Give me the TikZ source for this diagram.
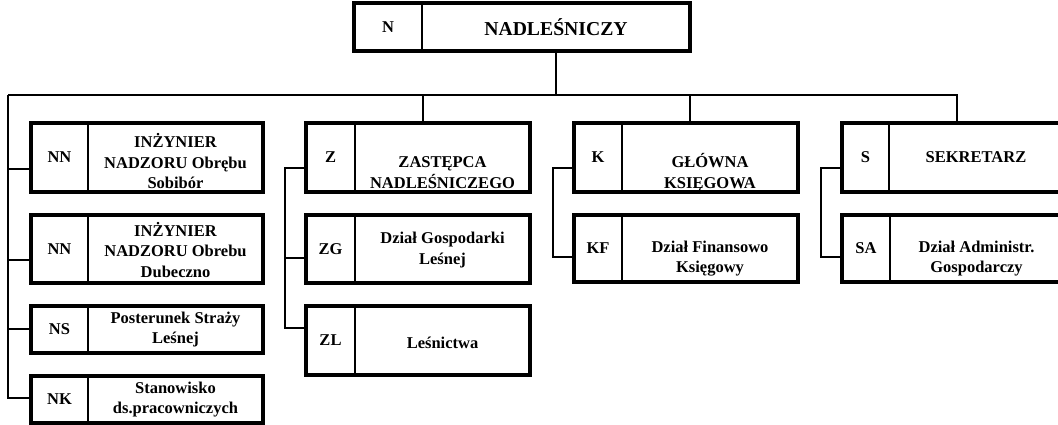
\documentclass[tikz,border=0pt]{standalone}
\usepackage{fontspec}
\setmainfont{Liberation Serif}
\newcommand\orgbox[9]{%
  \pgfmathsetmacro\wa{#3-#2}%
  \pgfmathsetmacro\wb{#4-#3}%
  \pgfmathsetmacro\hh{#6-#5}%
  \node[cell,minimum width=\wa pt,minimum height=\hh pt] (#1) at (#2,#5) {};
  \node[cell,minimum width=\wb pt,minimum height=\hh pt] (#1-t) at (#3,#5) {};
  \node[codetxt] (#1-c) at (#1.center) {#7};
  \node[titletxt] (#1-x) at ([yshift=-#9pt]#1-t.center) {#8};
  \draw[frame] (#1.north west) rectangle (#1-t.south east);
  \draw[divider] (#1.north east) -- (#1.south east);
}
\begin{document}
\begin{tikzpicture}[x=1pt,y=-1pt,
  cell/.style={inner sep=0pt, outer sep=0pt, anchor=north west},
  codetxt/.style={font=\bfseries\fontsize{16.5}{20}\selectfont, inner sep=0pt},
  titletxt/.style={font=\bfseries\fontsize{16.5}{20.5}\selectfont, align=center, inner sep=0pt},
  frame/.style={line width=3.4pt},
  divider/.style={line width=2.4pt},
  link/.style={line width=1.6pt}]
\useasboundingbox (0,0) rectangle (1058,425);

\orgbox{N}{354}{422}{690}{3}{51}{N}{\fontsize{19.7}{22}\selectfont NADLEŚNICZY}{0}
\orgbox{NN1}{31}{88}{263}{123}{192}{NN}{INŻYNIER\\NADZORU Obrębu\\Sobibór}{4}
\orgbox{NN2}{31}{88}{263}{215}{283}{NN}{INŻYNIER\\NADZORU Obrebu\\Dubeczno}{1}
\orgbox{NS}{31}{88}{263}{306}{353}{NS}{Posterunek Straży\\Leśnej}{0}
\orgbox{NK}{31}{88}{263}{376}{423}{NK}{Stanowisko\\ds.pracowniczych}{0}
\orgbox{Z}{306}{355}{530}{123}{192}{Z}{ZASTĘPCA\\NADLEŚNICZEGO}{15}
\orgbox{ZG}{306}{355}{530}{215}{283}{ZG}{Dział Gospodarki\\Leśnej}{1}
\orgbox{ZL}{306}{355}{530}{306}{375}{ZL}{Leśnictwa}{2}
\orgbox{K}{574}{622}{798}{123}{192}{K}{GŁÓWNA\\KSIĘGOWA}{15}
\orgbox{KF}{574}{622}{798}{215}{282}{KF}{Dział Finansowo\\Księgowy}{10}
\orgbox{S}{842}{889}{1063}{123}{192}{S}{SEKRETARZ}{0}
\orgbox{SA}{842}{890}{1063}{215}{282}{SA}{Dział Administr.\\Gospodarczy}{10}

% trunk
\coordinate (tL) at (8,95);
\coordinate (tZ) at (423,95);
\coordinate (tK) at (690,95);
\coordinate (tR) at (957,95);
\draw[link] (N-t.south) -- (N-t.south |- tL);
\draw[link] (tL) -- (tR) -- (tR |- S-t.north);
\draw[link] (tZ) -- (tZ |- Z-t.north);
\draw[link] (tK) -- (tK |- K-t.north);

% left column
\coordinate (pNN1) at (31,169);
\coordinate (pNN2) at (31,260);
\coordinate (pNS) at (31,329);
\coordinate (pNK) at (31,398);
\draw[link] (tL) |- (pNK);
\foreach \p in {pNN1,pNN2,pNS} \draw[link] (tL |- \p) -- (\p);

% Z column
\coordinate (sZ) at (285,168);
\coordinate (pZ) at (306,168);
\coordinate (pZG) at (306,258);
\coordinate (pZL) at (306,328);
\draw[link] (pZ) -- (sZ) |- (pZL);
\draw[link] (sZ |- pZG) -- (pZG);

% K column
\coordinate (sK) at (553,168);
\coordinate (pK) at (574,168);
\coordinate (pKF) at (574,257);
\draw[link] (pK) -- (sK) |- (pKF);

% S column
\coordinate (sS) at (821,168);
\coordinate (pS) at (842,168);
\coordinate (pSA) at (842,257);
\draw[link] (pS) -- (sS) |- (pSA);
\end{tikzpicture}
\end{document}
